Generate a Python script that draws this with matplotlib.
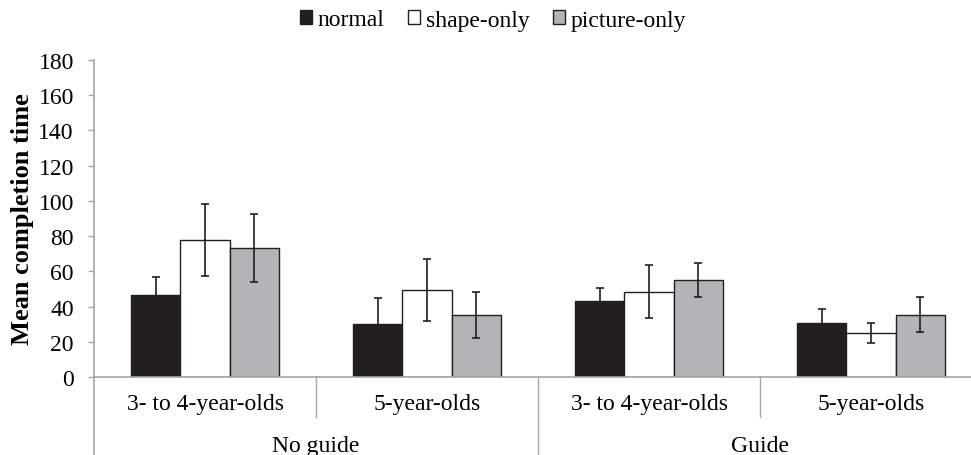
import matplotlib
matplotlib.use('Agg')
import matplotlib.pyplot as plt
import numpy as np
from matplotlib.transforms import blended_transform_factory

# Data
conditions = ['normal', 'shape-only', 'picture-only']
age_labels = ['3- to 4-year-olds', '5-year-olds', '3- to 4-year-olds', '5-year-olds']
guide_labels = ['No guide', 'Guide']
means = {
    'normal':       [46.8, 29.9, 43.2, 30.9],
    'shape-only':   [77.8, 49.6, 48.5, 25.0],
    'picture-only': [73.1, 35.4, 55.1, 35.4],
}
errors = {
    'normal':       [9.8, 15.0, 7.4, 7.7],
    'shape-only':   [20.2, 17.6, 15.1, 5.9],
    'picture-only': [19.3, 13.0, 9.6, 9.9],
}
colors = {'normal': '#231f20', 'shape-only': '#ffffff', 'picture-only': '#b3b4b6'}

plt.rcParams['font.family'] = ['Liberation Serif', 'DejaVu Serif']
GRAY = '#a6a6a6'
FS = 17

W, H = 971, 456
fig = plt.figure(figsize=(W / 100, H / 100), dpi=100)
# axes in pixel terms: left 94, right 982 (beyond image), top 61, bottom 378
ax = fig.add_axes([94 / W, (H - 378) / H, (982 - 94) / W, (378 - 61) / H])

x = np.arange(len(age_labels))
width = 0.222
for i, cond in enumerate(conditions):
    ax.bar(x + (i - 1) * width, means[cond], width, color=colors[cond],
           edgecolor='#231f20', linewidth=1.0, label=cond,
           yerr=errors[cond], error_kw=dict(ecolor='#231f20', elinewidth=1.2,
                                            capsize=3, capthick=1.2))

ax.set_xlim(-0.5, 3.5)
ax.set_ylim(0, 180)
ax.set_yticks(range(0, 181, 20))
ax.tick_params(axis='y', labelsize=FS, length=4.5, color=GRAY, width=1, pad=10)
ax.set_xticks([])
for s in ['top', 'right', 'left']:
    ax.spines[s].set_visible(False)
ax.spines['bottom'].set_color(GRAY)
ax.spines['bottom'].set_linewidth(1.2)

ax.set_ylabel('Mean completion time', fontsize=19, fontweight='bold', labelpad=3)

# category axis: separators and two-level labels
trans = blended_transform_factory(ax.transData, ax.transAxes)
ax.plot([-0.5, -0.5], [1.0, -0.25], color=GRAY, lw=1.2, transform=trans, clip_on=False)
ax.plot([1.5, 1.5], [0, -0.25], color=GRAY, lw=1.0, transform=trans, clip_on=False)
for sx in [0.5, 2.5]:
    ax.plot([sx, sx], [0, -0.127], color=GRAY, lw=1.0, transform=trans, clip_on=False)

for xi, lab in zip(x, age_labels):
    ax.text(xi, -0.085, lab, transform=trans, ha='center', va='center', fontsize=FS)
for gi, lab in enumerate(guide_labels):
    ax.text(gi * 2 + 0.5, -0.215, lab, transform=trans, ha='center', va='center', fontsize=FS)

ax.legend(loc='center', bbox_to_anchor=(493 / W, 1 - 21 / H), bbox_transform=fig.transFigure,
          ncol=3, frameon=False, fontsize=FS, handlelength=0.5, handleheight=0.5,
          handletextpad=0.25, columnspacing=1.0)

fig.savefig('out.png', dpi=100)
